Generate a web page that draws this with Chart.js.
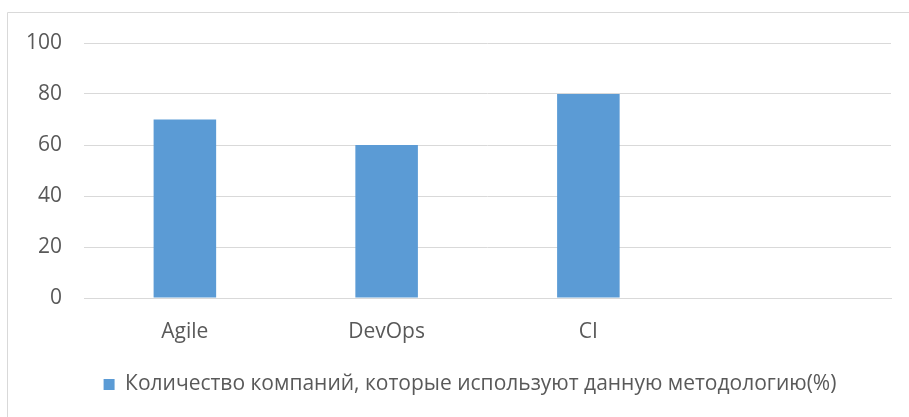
<!DOCTYPE html>
<html>
<head>
<meta charset="utf-8">
<script src="https://cdn.jsdelivr.net/npm/chart.js@4"></script>
<style>
  html, body { margin: 0; padding: 0; background: #fff; }
  #wrap { width: 909px; height: 417px; position: relative; }
</style>
</head>
<body>
<div id="wrap"><canvas id="chart" width="909" height="417"></canvas></div>
<script>
// chart values
const categories = ['Agile', 'DevOps', 'CI', ''];
const usage = [70, 60, 80, null];
const seriesLabel = 'Количество компаний, которые используют данную методологию(%)';
const yTicks = [0, 20, 40, 60, 80, 100];

const FONT = '"Open Sans", sans-serif';
const TEXT = '#595959';
const GRID = '#d9d9d9';

// light frame like the office chart area
const frame = {
  id: 'frame',
  beforeDraw(chart) {
    const ctx = chart.ctx;
    ctx.save();
    ctx.strokeStyle = GRID;
    ctx.lineWidth = 1;
    ctx.beginPath();
    ctx.moveTo(7.5, 417);
    ctx.lineTo(7.5, 12.5);
    ctx.lineTo(909, 12.5);
    ctx.stroke();
    ctx.restore();
  }
};

// excel centres the legend a bit to the right of the canvas middle
const legendShift = {
  id: 'legendShift',
  afterLayout(chart) {
    if (chart.legend) chart.legend.left = 49;
  }
};

new Chart(document.getElementById('chart'), {
  type: 'bar',
  data: {
    labels: categories,
    datasets: [{
      label: seriesLabel,
      data: usage,
      backgroundColor: '#5b9bd5',
      borderWidth: 0,
      categoryPercentage: 0.62,
      barPercentage: 0.5
    }]
  },
  options: {
    responsive: false,
    animation: false,
    layout: { padding: { top: 43, right: 18, bottom: 12, left: 0 } },
    scales: {
      x: {
        grid: { display: false },
        border: { color: GRID, width: 1 },
        ticks: { color: TEXT, font: { family: FONT, size: 21 }, padding: 13 },
        afterFit(scale) { scale.height = 66; }
      },
      y: {
        min: 0,
        max: 100,
        afterBuildTicks(scale) { scale.ticks = yTicks.map(v => ({ value: v })); },
        grid: { color: GRID, drawTicks: false },
        border: { display: false },
        ticks: { color: TEXT, font: { family: FONT, size: 21 }, padding: 22 },
        afterFit(scale) { scale.width = 84; }
      }
    },
    plugins: {
      legend: {
        position: 'bottom',
        onClick: function (e) { e.stopPropagation && e.stopPropagation(); },
        labels: {
          color: TEXT,
          font: { family: FONT, size: 21 },
          boxWidth: 11,
          boxHeight: 11,
          padding: 10
        }
      },
      tooltip: { enabled: false }
    }
  },
  plugins: [frame, legendShift]
});
</script>
</body>
</html>
